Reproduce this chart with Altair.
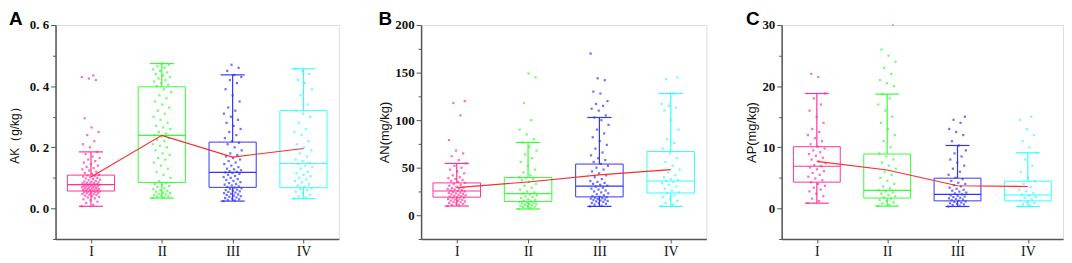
import json
import altair as alt
import pandas as pd

CATS = ["I", "II", "III", "IV"]
COLORS = ["#ff3399", "#33ff33", "#3333ff", "#33ffff"]

# ---------------- Panel A : AK (g/kg) ----------------
AK_I = [0.007, 0.012, 0.018, 0.022, 0.027, 0.03, 0.033, 0.036, 0.038, 0.04, 0.042, 0.044, 0.045,
        0.047, 0.048, 0.05, 0.051, 0.052, 0.053, 0.054, 0.055, 0.056, 0.057, 0.058, 0.059, 0.06,
        0.061, 0.062, 0.063, 0.064, 0.065, 0.066, 0.067, 0.068, 0.069, 0.07, 0.071, 0.072, 0.073,
        0.074, 0.075, 0.076, 0.077, 0.078, 0.079, 0.08, 0.081, 0.082, 0.083, 0.084, 0.085, 0.087,
        0.088, 0.09, 0.092, 0.094, 0.096, 0.098, 0.1, 0.102, 0.104, 0.106, 0.108, 0.11, 0.113,
        0.116, 0.12, 0.124, 0.128, 0.132, 0.136, 0.14, 0.145, 0.15, 0.155, 0.16, 0.165, 0.17,
        0.178, 0.185, 0.2, 0.21, 0.22, 0.24, 0.25, 0.265, 0.295, 0.42, 0.425, 0.43, 0.435]
AK_II = [0.034, 0.036, 0.038, 0.04, 0.042, 0.044, 0.046, 0.048, 0.05, 0.052, 0.055, 0.058, 0.06,
         0.063, 0.066, 0.07, 0.073, 0.077, 0.08, 0.084, 0.09, 0.1, 0.11, 0.12, 0.13, 0.14, 0.15,
         0.16, 0.165, 0.175, 0.18, 0.19, 0.2, 0.205, 0.21, 0.22, 0.225, 0.23, 0.235, 0.24, 0.245,
         0.25, 0.26, 0.265, 0.27, 0.28, 0.29, 0.3, 0.31, 0.32, 0.33, 0.34, 0.35, 0.36, 0.37, 0.38,
         0.39, 0.4, 0.405, 0.41, 0.415, 0.42, 0.425, 0.43, 0.435, 0.44, 0.445, 0.45, 0.455, 0.46,
         0.465, 0.47, 0.474]
AK_III = [0.024, 0.026, 0.028, 0.03, 0.032, 0.034, 0.036, 0.038, 0.04, 0.042, 0.044, 0.046, 0.048,
          0.05, 0.052, 0.054, 0.056, 0.058, 0.06, 0.062, 0.064, 0.066, 0.068, 0.07, 0.072, 0.075,
          0.078, 0.08, 0.083, 0.086, 0.09, 0.093, 0.096, 0.1, 0.103, 0.106, 0.11, 0.113, 0.116,
          0.118, 0.12, 0.122, 0.125, 0.128, 0.13, 0.135, 0.14, 0.145, 0.15, 0.155, 0.16, 0.165,
          0.17, 0.175, 0.18, 0.19, 0.2, 0.21, 0.215, 0.22, 0.23, 0.24, 0.25, 0.26, 0.27, 0.28,
          0.29, 0.3, 0.31, 0.32, 0.33, 0.35, 0.37, 0.39, 0.41, 0.42, 0.43, 0.437, 0.45, 0.46, 0.47]
AK_IV = [0.032, 0.036, 0.04, 0.045, 0.05, 0.055, 0.06, 0.063, 0.066, 0.07, 0.075, 0.08, 0.085,
         0.09, 0.095, 0.1, 0.105, 0.11, 0.115, 0.12, 0.13, 0.135, 0.14, 0.145, 0.15, 0.155, 0.16,
         0.17, 0.18, 0.19, 0.2, 0.21, 0.22, 0.24, 0.25, 0.26, 0.28, 0.3, 0.31, 0.32, 0.34, 0.37,
         0.39, 0.41, 0.42, 0.44, 0.45, 0.457]
AK_LO = [0.007, 0.034, 0.024, 0.032]
AK_Q1 = [0.057, 0.085, 0.069, 0.068]
AK_MED = [0.078, 0.239, 0.118, 0.147]
AK_Q3 = [0.109, 0.398, 0.217, 0.320]
AK_HI = [0.185, 0.474, 0.437, 0.457]
AK_MEAN = [0.103, 0.239, 0.168, 0.196]

# ---------------- Panel B : AN (mg/kg) ----------------
AN_I = [9.7, 10.5, 11, 12, 12.5, 13, 13.5, 14, 14.5, 15, 15.5, 16, 16.5, 17, 17.5, 18, 18.5, 19,
        19.5, 20, 20.5, 21, 21.5, 22, 22.5, 23, 23.5, 24, 24.5, 25, 25.5, 26, 26.5, 27, 27.5, 28,
        28.5, 29, 30, 31, 32, 33, 34, 35, 36, 37, 38, 39, 40, 42, 44, 46, 48, 50, 52, 54.5, 58,
        62, 65, 68, 79, 105, 118, 120]
AN_II = [6.6, 7.5, 8.5, 9, 9.5, 10, 10.5, 11, 11.5, 12, 12.5, 13, 13.5, 14, 14.5, 15, 16, 17, 18,
         19, 20, 21, 22, 22.8, 24, 25, 27, 29, 31, 33, 35, 37, 38, 39, 40, 42, 45, 48, 52, 56, 60,
         64, 68, 72, 76.5, 80, 85, 90, 100, 118, 145, 149]
AN_III = [9.3, 10, 11, 12, 12.5, 13, 14, 14.5, 15, 15.5, 16, 16.5, 17, 17.5, 18, 18.5, 19, 19.5,
          20, 21, 22, 23, 24, 25, 26, 27, 28, 29, 30, 31, 32, 33, 34, 35, 36, 38, 40, 42, 44, 46,
          48, 50, 52, 54, 56, 58, 60, 63, 66, 70, 74, 78, 82, 86, 90, 95, 100, 102.8, 105, 110,
          112, 115, 117, 120, 128, 130, 142, 144, 170]
AN_IV = [9.3, 11, 13, 15, 17, 19, 21, 23, 24, 26, 28, 30, 32, 34, 35, 36, 37, 38, 40, 42, 45, 48,
         52, 56, 60, 65, 70, 76, 80, 90, 100, 110, 113, 115, 117, 128, 143, 145]
AN_LO = [9.7, 6.6, 9.3, 9.3]
AN_Q1 = [19.0, 14.5, 19.3, 23.4]
AN_MED = [25.5, 22.8, 30.7, 36.0]
AN_Q3 = [34.0, 39.7, 53.8, 67.0]
AN_HI = [54.5, 76.5, 102.8, 128.0]
AN_MEAN = [29.0, 35.0, 42.4, 48.0]

# ---------------- Panel C : AP (mg/kg) ----------------
AP_I = [0.86, 1.2, 1.6, 2, 2.4, 2.8, 3.1, 3.4, 3.7, 4, 4.3, 4.6, 4.9, 5.2, 5.5, 5.8, 6.1, 6.4,
        6.7, 6.9, 7.1, 7.4, 7.7, 8, 8.3, 8.6, 8.9, 9.2, 9.5, 9.8, 10.1, 10.5, 11, 11.5, 12, 12.5,
        13, 14, 15, 16, 17, 18, 18.8, 21.5, 22]
AP_II = [0.38, 0.6, 0.8, 1, 1.2, 1.4, 1.6, 1.8, 2, 2.2, 2.4, 2.6, 2.8, 3, 3.3, 3.6, 4, 4.5, 5,
         5.5, 6, 6.5, 7, 7.5, 8, 8.5, 9, 10, 11, 12, 13, 14, 15, 16, 17, 18, 18.7, 20, 20.5, 21,
         22, 23, 24, 25, 26, 30]
AP_III = [0.32, 0.45, 0.55, 0.65, 0.75, 0.85, 0.95, 1.05, 1.15, 1.25, 1.35, 1.45, 1.55, 1.65,
          1.75, 1.85, 1.95, 2.05, 2.15, 2.3, 2.45, 2.6, 2.75, 2.9, 3.05, 3.2, 3.4, 3.6, 3.8, 4,
          4.2, 4.5, 4.8, 5, 5.5, 6, 6.5, 7, 7.5, 8, 8.5, 9, 9.5, 10.3, 11, 12, 12.5, 13, 14,
          14.5, 15]
AP_IV = [0.32, 0.5, 0.7, 0.9, 1.1, 1.3, 1.5, 1.7, 1.9, 2.1, 2.3, 2.5, 2.8, 3.1, 3.5, 4, 4.4, 5,
         6, 7, 8, 9.1, 10, 11, 12, 13, 14.5, 15]
AP_LO = [0.86, 0.38, 0.32, 0.32]
AP_Q1 = [4.3, 1.7, 1.24, 1.24]
AP_MED = [6.9, 2.96, 2.3, 2.2]
AP_Q3 = [10.1, 8.9, 4.95, 4.46]
AP_HI = [18.8, 18.7, 10.3, 9.1]
AP_MEAN = [7.7, 6.3, 3.7, 3.6]

SERIF = "Liberation Serif"
SANS = "Liberation Sans"
AXIS_COL = "#555555"


def panel(letter, ytitle, groups, lo, q1, med, q3, hi, mean,
          domain, ticks, major_test, fmt, extent, tpad, tsize, width):
    pts = pd.DataFrame([
        {"cat": CATS[i], "idx": i, "v": v, "k": j}
        for i, g in enumerate(groups) for j, v in enumerate(g)
    ])
    stats = pd.DataFrame({"cat": CATS, "idx": list(range(len(CATS))),
                          "lo": lo, "q1": q1, "med": med, "q3": q3, "hi": hi, "mean": mean})

    xscale = alt.Scale(domain=[-0.5, len(CATS) - 0.5], nice=False, zero=False)
    yscale = alt.Scale(domain=domain, nice=False, zero=False)
    color = alt.Color("cat:N", scale=alt.Scale(domain=CATS, range=COLORS), legend=None)

    xaxis = alt.Axis(values=list(range(len(CATS))),
                     labelExpr=json.dumps(CATS) + "[datum.value]",
                     title=None, grid=False, tickSize=4, tickColor=AXIS_COL,
                     domainColor=AXIS_COL, domainWidth=1.5, labelFont=SERIF,
                     labelFontSize=14, labelColor="#111111", labelPadding=2)
    label_expr = f"({major_test}) ? replace(format(datum.value, '{fmt}'), '.', '. ') : ''"
    yaxis = alt.Axis(values=ticks, labelExpr=label_expr, title=ytitle, grid=False,
                     tickSize={"condition": {"test": major_test, "value": 5}, "value": 3},
                     tickColor=AXIS_COL, domainColor=AXIS_COL, domainWidth=1.5,
                     labelFont=SERIF, labelFontSize=13, labelFontWeight="bold",
                     labelColor="#111111", labelPadding=2,
                     minExtent=extent, maxExtent=extent, titlePadding=tpad,
                     titleFont=SANS, titleFontSize=tsize, titleFontWeight="normal",
                     titleColor="#111111")

    X = lambda f: alt.X(f, scale=xscale, axis=xaxis)
    Y = lambda f: alt.Y(f, scale=yscale, axis=yaxis)

    base_pts = alt.Chart(pts).transform_calculate(
        jx="datum.idx + ((datum.k * 0.618034) % 1 - 0.5) * 0.26"
    )
    points = base_pts.mark_square(size=5, opacity=0.7, strokeWidth=0).encode(
        x=X("jx:Q"), y=Y("v:Q"), color=color,
    )

    base = alt.Chart(stats).transform_calculate(
        bx1="datum.idx - 0.333", bx2="datum.idx + 0.333",
        cx1="datum.idx - 0.17", cx2="datum.idx + 0.17",
    )

    box = base.mark_rect(fillOpacity=0, strokeWidth=1).encode(
        x=X("bx1:Q"), x2="bx2:Q", y=Y("q1:Q"), y2="q3:Q", stroke=color)
    w_lo = base.mark_rule(strokeWidth=1.2).encode(x=X("idx:Q"), y=Y("lo:Q"), y2="q1:Q", color=color)
    w_hi = base.mark_rule(strokeWidth=1.2).encode(x=X("idx:Q"), y=Y("q3:Q"), y2="hi:Q", color=color)
    cap_lo = base.mark_rule(strokeWidth=1.2).encode(x=X("cx1:Q"), x2="cx2:Q", y=Y("lo:Q"), color=color)
    cap_hi = base.mark_rule(strokeWidth=1.2).encode(x=X("cx1:Q"), x2="cx2:Q", y=Y("hi:Q"), color=color)
    median = base.mark_rule(strokeWidth=1.2).encode(x=X("bx1:Q"), x2="bx2:Q", y=Y("med:Q"), color=color)
    mean_line = base.mark_line(color="#ff2a2a", strokeWidth=1.1).encode(
        x=X("idx:Q"), y=Y("mean:Q"), order="idx:Q")

    return alt.layer(points, box, w_lo, w_hi, cap_lo, cap_hi, median, mean_line).properties(
        width=width, height=216,
        title=alt.TitleParams(letter, anchor="start", frame="bounds", font=SANS,
                              fontSize=19, fontWeight="bold", color="#000000", offset=-10),
    )


a = panel("A", "AK（g/kg）", [AK_I, AK_II, AK_III, AK_IV], AK_LO, AK_Q1, AK_MED, AK_Q3, AK_HI, AK_MEAN,
          [-0.1, 0.6], [-0.1, 0.0, 0.1, 0.2, 0.3, 0.4, 0.5, 0.6],
          "abs(datum.value * 5 - round(datum.value * 5)) < 0.001", ".1f", 29, 5, 12, 286)
b = panel("B", "AN(mg/kg)", [AN_I, AN_II, AN_III, AN_IV], AN_LO, AN_Q1, AN_MED, AN_Q3, AN_HI, AN_MEAN,
          [-25, 200], [-25, 0, 25, 50, 75, 100, 125, 150, 175, 200],
          "datum.value % 50 == 0", "d", 26, 4, 13, 288)
c = panel("C", "AP(mg/kg)", [AP_I, AP_II, AP_III, AP_IV], AP_LO, AP_Q1, AP_MED, AP_Q3, AP_HI, AP_MEAN,
          [-5, 30], [-5, 0, 5, 10, 15, 20, 25, 30],
          "datum.value % 10 == 0", "d", 21, 2, 13, 284)

chart = alt.hconcat(a, b, c, spacing=38).properties(
    padding={"left": 0, "top": 0, "right": 0, "bottom": 0}
).configure_view(stroke="#888888", strokeWidth=1).configure(background="white")

chart.save("out.html", embed_options={"renderer": "svg", "actions": False})
